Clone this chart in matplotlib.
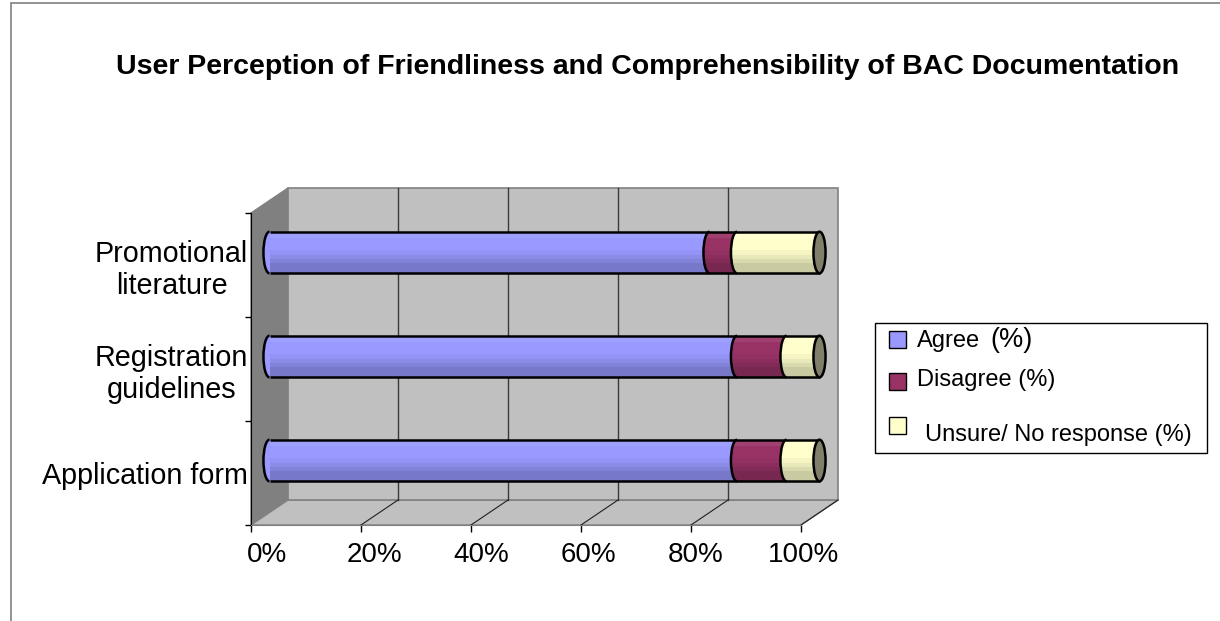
import matplotlib
matplotlib.use('Agg')
import matplotlib.pyplot as plt
from matplotlib.patches import Ellipse, Arc, Polygon, Rectangle
from matplotlib.transforms import offset_copy
import numpy as np

plt.rcParams['font.family'] = ['Liberation Sans', 'DejaVu Sans']

# data
title = 'User Perception of Friendliness and Comprehensibility of BAC Documentation'
categories = ['Promotional\nliterature', 'Registration\nguidelines', 'Application form']
series = ['Agree (%)', 'Disagree (%)', 'Unsure/ No response (%)']
agree = [80, 85, 85]
disagree = [5, 9, 9]
unsure = [15, 6, 6]
xticks = [0, 20, 40, 60, 80, 100]
xtick_labels = ['0%', '20%', '40%', '60%', '80%', '100%']

colors = ['#9999FF', '#993366', '#FFFFCC']
cap_color = '#80806A'

W, H = 1220, 621
fig = plt.figure(figsize=(W / 100, H / 100), dpi=100)


def px(x0, y0, x1, y1):
    return [x0 / W, 1 - y1 / H, (x1 - x0) / W, (y1 - y0) / H]


# front plane of the 3d box
ax = fig.add_axes(px(251, 213, 801, 525))
ax.set_xlim(0, 100)
ax.set_ylim(-0.5, 2.5)
ax.patch.set_visible(False)

# depth of the box in data units
DX = 37 / 5.5
DY = 25 / 104
y0, y1 = -0.5, 2.5

# side wall, floor, back wall
ax.add_patch(Polygon([(0, y0), (0, y1), (DX, y1 + DY), (DX, y0 + DY)],
                     fc='#808080', ec='#808080', lw=1, clip_on=False, zorder=0))
ax.add_patch(Polygon([(0, y0), (100, y0), (100 + DX, y0 + DY), (DX, y0 + DY)],
                     fc='#C0C0C0', ec='#808080', lw=1, clip_on=False, zorder=0))
ax.add_patch(Rectangle((DX, y0 + DY), 100, y1 - y0, fc='#C0C0C0', ec='#808080',
                       lw=1.2, clip_on=False, zorder=0))
for v in xticks[1:-1]:
    ax.plot([v + DX, v + DX], [y0 + DY, y1 + DY], color='#3a3a3a', lw=1, zorder=1, clip_on=False)
for v in xticks[1:]:
    ax.plot([v, v + DX], [y0, y0 + DY], color='#202020', lw=0.8, zorder=1, clip_on=False)

# cylinder bars
segs = np.array([agree, disagree, unsure], dtype=float)
lefts = np.vstack([np.zeros(len(categories)), np.cumsum(segs, axis=0)[:-1]])
ypos = np.arange(len(categories))[::-1]
h = 0.4
ew = 2.2
start = DX / 2
for i, y in enumerate(ypos):
    yb = y + DY / 2
    end = segs[:, i].sum() + start
    # fills
    for j in range(len(series)):
        left = lefts[j][i] + start
        ax.barh(yb, segs[j][i], left=left, height=h, color=colors[j], lw=0,
                zorder=3, clip_on=False)
        ax.add_patch(Ellipse((left, yb), ew, h, fc=colors[j], ec='none', zorder=3, clip_on=False))
    # round shading, darker towards the bottom
    for k, a in enumerate([0.04, 0.05, 0.06, 0.07]):
        ax.barh(yb - h / 2, end - start, left=start, height=h * (0.55 - 0.1 * k),
                align='edge', color='black', alpha=a, lw=0, zorder=3, clip_on=False)
    ax.barh(yb + h / 2, end - start, left=start, height=-h * 0.15, align='edge',
            color='white', alpha=0.08, lw=0, zorder=3, clip_on=False)
    # outlines
    ax.hlines([yb - h / 2, yb + h / 2], start, end, color='black', lw=1.8, zorder=4, clip_on=False)
    for j in range(len(series)):
        ax.add_patch(Arc((lefts[j][i] + start, yb), ew, h, theta1=90, theta2=270,
                         color='black', lw=1.8, zorder=4, clip_on=False))
    ax.add_patch(Ellipse((end, yb), ew, h, fc=cap_color, ec='black', lw=1.8,
                         zorder=4, clip_on=False))

# axes
for s in ['top', 'right']:
    ax.spines[s].set_visible(False)
ax.spines['left'].set_color('black')
ax.spines['bottom'].set_color('#808080')
ax.set_yticks(ypos, categories, fontsize=20.7)
for lbl in ax.get_yticklabels():
    lbl.set_multialignment('center')
ax.tick_params(axis='y', which='major', length=0, pad=2)
ax.set_yticks([-0.5, 0.5, 1.5, 2.5], minor=True)
ax.tick_params(axis='y', which='minor', length=4.5, width=1, color='black')
ax.set_xticks(xticks)
ax.set_xticklabels([])
ax.tick_params(axis='x', length=5, width=1, color='black')
for k, (v, lab) in enumerate(zip(xticks, xtick_labels)):
    tr = offset_copy(ax.transData, fig=fig, x=16 - 2.8 * k, y=-17, units='dots')
    ax.text(v, y0, lab, transform=tr, ha='center', va='top', fontsize=20)

# title
fig.text(648 / W, 1 - 67 / H, title, ha='center', va='center', fontsize=20.5, fontweight='bold')

# legend
fig.add_artist(Rectangle((875 / W, 1 - 453 / H), 332 / W, 130 / H, transform=fig.transFigure,
                         fill=False, ec='black', lw=1))
mark_y = [339, 381, 425]
text_y = [341, 380, 435]
text_x = [917, 917, 925]
for j, name in enumerate(series):
    fig.add_artist(Rectangle((889 / W, 1 - (mark_y[j] + 8.5) / H), 17 / W, 17 / H,
                             transform=fig.transFigure, fc=colors[j], ec='black', lw=1))
    if name.startswith('Agree'):
        fig.text(text_x[j] / W, 1 - text_y[j] / H, 'Agree', ha='left', va='center', fontsize=17)
        fig.text(990 / W, 1 - (text_y[j] - 1) / H, '(%)', ha='left', va='center', fontsize=19.5)
    else:
        fig.text(text_x[j] / W, 1 - text_y[j] / H, name, ha='left', va='center', fontsize=17)

# outer frame
fig.add_artist(Rectangle((11 / W, -0.1), 1.2, 618 / H + 0.1, transform=fig.transFigure,
                         fill=False, ec='#808080', lw=1.2))

fig.savefig('out.png', dpi=100)
